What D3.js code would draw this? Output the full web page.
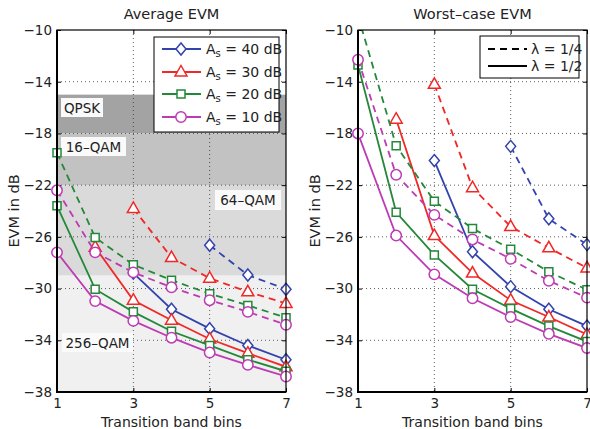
<!DOCTYPE html>
<html><head><meta charset="utf-8">
<script src="https://cdn.jsdelivr.net/npm/d3@7"></script>
<style>body{margin:0;background:#fff}svg{display:block;font-family:"DejaVu Sans",sans-serif}</style>
</head><body><svg id="c" width="590" height="429"></svg>
<script>
const bins = [1,2,3,4,5,6,7];
const xTicks = [1,3,5,7];
const yTicks = [-10,-14,-18,-22,-26,-30,-34,-38];
const seriesNames = ["A_s = 40 dB","A_s = 30 dB","A_s = 20 dB","A_s = 10 dB"];
const seriesKeys = ["40","30","20","10"];
const lambdaLabels = ["λ = 1/4","λ = 1/2"];

// Average EVM
const avgHalf40 = [null,null,-28.8,-31.6,-33.1,-34.4,-35.5];
const avgHalf30 = [null,-26.8,-30.9,-32.45,-33.9,-35.0,-36.05];
const avgHalf20 = [-23.6,-30.05,-31.8,-33.3,-34.4,-35.5,-36.4];
const avgHalf10 = [-27.2,-30.97,-32.5,-33.8,-34.95,-35.9,-36.8];
const avgQuarter40 = [null,null,null,null,-26.65,-28.95,-30.05];
const avgQuarter30 = [null,null,-23.8,-27.6,-29.2,-30.25,-31.15];
const avgQuarter20 = [-19.5,-26.05,-28.15,-29.35,-30.4,-31.3,-32.25];
const avgQuarter10 = [-22.4,-27.2,-28.75,-29.9,-30.9,-31.8,-32.8];

// Worst-case EVM
const wcHalf40 = [null,null,-20.1,-27.15,-29.85,-31.6,-32.9];
const wcHalf30 = [null,-16.9,-25.9,-28.8,-30.9,-32.2,-33.55];
const wcHalf20 = [-12.7,-24.1,-27.4,-30.05,-31.55,-32.9,-34.1];
const wcHalf10 = [-18.0,-25.9,-28.9,-30.75,-32.2,-33.5,-34.6];
const wcQuarter40 = [null,null,null,null,-19.0,-24.6,-26.6];
const wcQuarter30 = [null,null,-14.2,-22.2,-25.2,-26.85,-28.4];
const wcQuarter20 = [-8.9,-18.95,-23.25,-25.35,-26.95,-28.7,-30.1];
const wcQuarter10 = [-12.3,-21.2,-24.3,-26.2,-27.7,-29.4,-30.7];

// Modulation regions (Average EVM)
const regionNames = ["QPSK","16–QAM","64–QAM","256–QAM"];
const regionTop = [-15,-18,-22,-29];
const regionBottom = [-18,-22,-29,-38];

const colors = {"40":"#3343ad","30":"#f02828","20":"#24883a","10":"#bd3bb3"};
const shapes = {"40":"diamond","30":"triangle","20":"square","10":"circle"};

const svg = d3.select("#c");
const minus = s => String(s).replace("-", "−");

function markerPath(shape){
  if(shape==="diamond") return "M0,-6L5,0L0,6L-5,0Z";
  if(shape==="triangle") return "M0,-6.5L6,4L-6,4Z";
  if(shape==="square") return "M-4,-4L4,-4L4,4L-4,4Z";
  return d3.symbol().type(d3.symbolCircle).size(Math.PI*5.2*5.2)();
}

function panel(opt){
  const x = d3.scaleLinear().domain([1,7]).range([opt.x0, opt.x1]);
  const y = d3.scaleLinear().domain([-38,-10]).range([392,30]);
  const g = svg.append("g");
  const id = "clip"+opt.id;
  svg.append("clipPath").attr("id", id).append("rect")
    .attr("x", opt.x0).attr("y", 30).attr("width", opt.x1-opt.x0).attr("height", 362);

  g.append("rect").attr("x",opt.x0).attr("y",30).attr("width",opt.x1-opt.x0).attr("height",362).attr("fill","#fff");

  if(opt.regions){
    const rc = ["#a3a3a3","#c2c2c2","#dadada","#f0f0f0"];
    regionNames.forEach((n,i)=>{
      g.append("rect").attr("x",opt.x0).attr("width",opt.x1-opt.x0)
        .attr("y", y(regionTop[i])).attr("height", y(regionBottom[i])-y(regionTop[i]))
        .attr("fill", rc[i]);
    });
  }

  // grid
  const grid = g.append("g").attr("stroke","#333").attr("stroke-width",0.8).attr("stroke-dasharray","1,3");
  xTicks.slice(1,-1).forEach(t=>grid.append("line").attr("x1",x(t)).attr("x2",x(t)).attr("y1",30).attr("y2",392));
  yTicks.slice(1,-1).forEach(t=>grid.append("line").attr("x1",opt.x0).attr("x2",opt.x1).attr("y1",y(t)).attr("y2",y(t)));

  if(opt.regions){
    const boxes = [
      {x:61,y:98,w:42,h:19},{x:61,y:137,w:65,h:19},{x:215,y:190,w:66,h:20},{x:62,y:333,w:71,h:19}
    ];
    regionNames.forEach((n,i)=>{
      const b = boxes[i];
      g.append("rect").attr("x",b.x).attr("y",b.y).attr("width",b.w).attr("height",b.h).attr("fill","#fafafa");
      g.append("text").attr("x",b.x+b.w/2).attr("y",b.y+b.h/2+5).attr("text-anchor","middle")
        .attr("font-size",13.5).attr("fill","#222").text(n);
    });
  }

  // axes
  const ax = d3.axisBottom(x).tickValues(xTicks).tickSize(-4).tickPadding(6).tickFormat(d3.format("d"));
  const ay = d3.axisLeft(y).tickValues(yTicks).tickSize(-4).tickPadding(5).tickFormat(d=>minus(d));
  const axg = g.append("g").attr("transform",`translate(0,392)`).call(ax);
  const ayg = g.append("g").attr("transform",`translate(${opt.x0},0)`).call(ay);
  [axg,ayg].forEach(a=>{
    a.select(".domain").remove();
    a.selectAll("text").attr("font-size",13.5).attr("fill","#222").attr("font-family","DejaVu Sans, sans-serif");
    a.selectAll("line").attr("stroke","#000");
  });
  // top/right ticks
  const axt = d3.axisTop(x).tickValues(xTicks).tickSize(-4).tickFormat("");
  const ayr = d3.axisRight(y).tickValues(yTicks).tickSize(-4).tickFormat("");
  const at = g.append("g").attr("transform","translate(0,30)").call(axt);
  const ar = g.append("g").attr("transform",`translate(${opt.x1},0)`).call(ayr);
  [at,ar].forEach(a=>{a.select(".domain").remove(); a.selectAll("line").attr("stroke","#000");});

  // data
  const dg = g.append("g");
  const line = d3.line().defined(d=>d[1]!=null).x(d=>x(d[0])).y(d=>y(d[1]));
  const order = ["40","30","20","10"];
  order.forEach(k=>{
    [[opt.quarter[k],"7,5"],[opt.half[k],null]].forEach(([vals,dash])=>{
      const pts = bins.map((b,i)=>[b,vals[i]]);
      dg.append("path").datum(pts).attr("d",line).attr("fill","none")
        .attr("stroke",colors[k]).attr("stroke-width",1.8)
        .attr("stroke-dasharray",dash).attr("clip-path",`url(#${id})`);
      dg.selectAll(null).data(pts.filter(p=>p[1]!=null && p[1]<=-10 && p[1]>=-38)).enter()
        .append("path").attr("d",markerPath(shapes[k]))
        .attr("transform",p=>`translate(${x(p[0])},${y(p[1])})`)
        .attr("fill","#fff").attr("stroke",colors[k]).attr("stroke-width",1.5);
    });
  });

  // frame
  g.append("rect").attr("x",opt.x0).attr("y",30).attr("width",opt.x1-opt.x0).attr("height",362)
    .attr("fill","none").attr("stroke","#000").attr("stroke-width",1.2);
  g.append("line").attr("x1",opt.x0).attr("x2",opt.x0).attr("y1",30).attr("y2",392.5).attr("stroke","#000").attr("stroke-width",2);
  g.append("line").attr("x1",opt.x0-1).attr("x2",opt.x1).attr("y1",392).attr("y2",392).attr("stroke","#000").attr("stroke-width",2);

  // labels
  svg.append("text").attr("x",(opt.x0+opt.x1)/2).attr("y",19).attr("text-anchor","middle")
    .attr("font-size",14.5).attr("fill","#222").text(opt.title);
  svg.append("text").attr("x",(opt.x0+opt.x1)/2).attr("y",427).attr("text-anchor","middle")
    .attr("font-size",14).attr("fill","#222").text("Transition band bins");
  svg.append("text").attr("transform",`translate(${opt.yl},211) rotate(-90)`).attr("text-anchor","middle")
    .attr("font-size",14.5).attr("fill","#222").text("EVM in dB");
  return g;
}

const left = panel({id:"L", x0:57, x1:286, yl:19, title:"Average EVM", regions:true,
  half:{"40":avgHalf40,"30":avgHalf30,"20":avgHalf20,"10":avgHalf10},
  quarter:{"40":avgQuarter40,"30":avgQuarter30,"20":avgQuarter20,"10":avgQuarter10}});
const right = panel({id:"R", x0:358, x1:587, yl:320, title:"Worst–case EVM", regions:false,
  half:{"40":wcHalf40,"30":wcHalf30,"20":wcHalf20,"10":wcHalf10},
  quarter:{"40":wcQuarter40,"30":wcQuarter30,"20":wcQuarter20,"10":wcQuarter10}});

// left legend
const lg = svg.append("g");
lg.append("rect").attr("x",154).attr("y",37).attr("width",125).attr("height",95).attr("fill","#fff").attr("stroke","#000").attr("stroke-width",1);
const rowsY = [49,72,94,117];
seriesKeys.forEach((k,i)=>{
  const yy = rowsY[i];
  lg.append("line").attr("x1",162).attr("x2",201).attr("y1",yy).attr("y2",yy).attr("stroke",colors[k]).attr("stroke-width",1.8);
  lg.append("path").attr("d",markerPath(shapes[k])).attr("transform",`translate(181,${yy})`)
    .attr("fill","#fff").attr("stroke",colors[k]).attr("stroke-width",1.5);
  const parts = seriesNames[i].split("_s");
  const t = lg.append("text").attr("x",206).attr("y",yy+5).attr("font-size",14).attr("fill","#222");
  t.append("tspan").text(parts[0]);
  t.append("tspan").attr("dy",3).attr("font-size",10).text("s");
  t.append("tspan").attr("dy",-3).text(parts[1]);
});

// right legend
const rg = svg.append("g");
rg.append("rect").attr("x",480).attr("y",36).attr("width",99).attr("height",42).attr("fill","#fff").attr("stroke","#000").attr("stroke-width",1);
[["7,5",49],[null,66]].forEach(([dash,yy],i)=>{
  rg.append("line").attr("x1",488).attr("x2",527).attr("y1",yy).attr("y2",yy).attr("stroke","#000").attr("stroke-width",1.8).attr("stroke-dasharray",dash);
  rg.append("text").attr("x",531).attr("y",yy+5).attr("font-size",14).attr("fill","#222").text(lambdaLabels[i]);
});
</script></body></html>
